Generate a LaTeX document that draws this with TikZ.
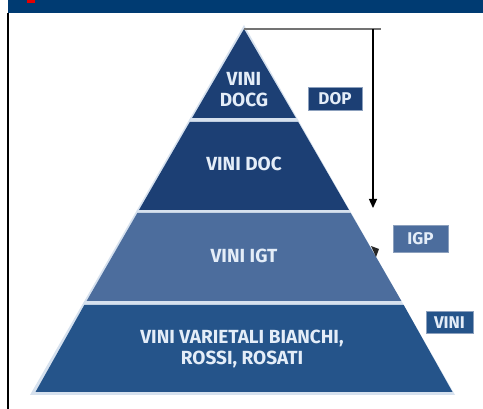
\documentclass[tikz,border=0pt]{standalone}
\usepackage{fontspec}
\setmainfont{Fira Sans}
\usetikzlibrary{arrows.meta}
\definecolor{banner}{HTML}{003B72}
\definecolor{navy}{HTML}{1C3F74}
\definecolor{midblue}{HTML}{4C6D9D}
\definecolor{tierfour}{HTML}{25548A}
\definecolor{edge}{HTML}{D6E1EE}
\definecolor{txt}{HTML}{E4EDF8}
\tikzset{
  tiertext/.style={text=txt, font=\bfseries\fontsize{19}{21}\selectfont, align=center, inner sep=0pt},
  tag/.style={text=txt, font=\bfseries\fontsize{17}{17}\selectfont, inner sep=0pt, draw=edge!60!navy, line width=0.6pt},
}
\begin{document}
\begin{tikzpicture}[x=1pt,y=-1pt]
\useasboundingbox (0,0) rectangle (483,409);
\fill[white] (0,0) rectangle (483,409);
% banner
\fill[banner] (8,0) rectangle (483,13);
\fill[red!90!black] (27,0) rectangle (35,3);
\draw[black, line width=1.6pt] (8,13) -- (8,409);
% pyramid outline
\fill[edge] (244,25) -- (455,395) -- (30,395) -- cycle;
% tiers
\fill[navy] (244,29) -- (295.9,118) -- (192.1,118) -- cycle;
\fill[navy] (189.8,122) -- (298.2,122) -- (349.0,210) -- (139.0,210) -- cycle;
\fill[midblue] (137.3,213) -- (350.7,213) -- (401.4,301) -- (86.6,301) -- cycle;
\fill[tierfour] (84.3,305) -- (403.7,305) -- (452.5,392) -- (35.5,392) -- cycle;
% texts
\node[tiertext] (docg) at (244,90) {VINI\\DOCG};
\node[tiertext] (doc) at (244,164) {VINI DOC};
\node[tiertext] (igt) at (244,256) {VINI IGT};
\node[tiertext] (var) at (242,349) {VINI VARIETALI BIANCHI,\\ROSSI, ROSATI};
% tags
\node[tag, fill=navy, minimum width=54pt, minimum height=23pt] (dop) at (335,98.5) {DOP};
\node[tag, fill=midblue, minimum width=55pt, minimum height=27pt] (igp) at (420.5,238.5) {IGP};
\node[tag, fill=tierfour, minimum width=47pt, minimum height=22pt] (vini) at (449.5,322.5) {VINI};
% arrow
\coordinate (apex) at (244,29);
\coordinate (corner) at (381,29);
\coordinate (vtop) at (373,29);
\coordinate (vend) at (373,208);
\draw[black!55, line width=2.2pt] (apex) -- (corner);
\draw[black, line width=1.3pt, -{Triangle[length=9pt,width=8pt]}] (vtop) -- (vend);
\fill[black!85] (371,246) -- (379,249) -- (376,257) -- cycle;
\end{tikzpicture}
\end{document}
